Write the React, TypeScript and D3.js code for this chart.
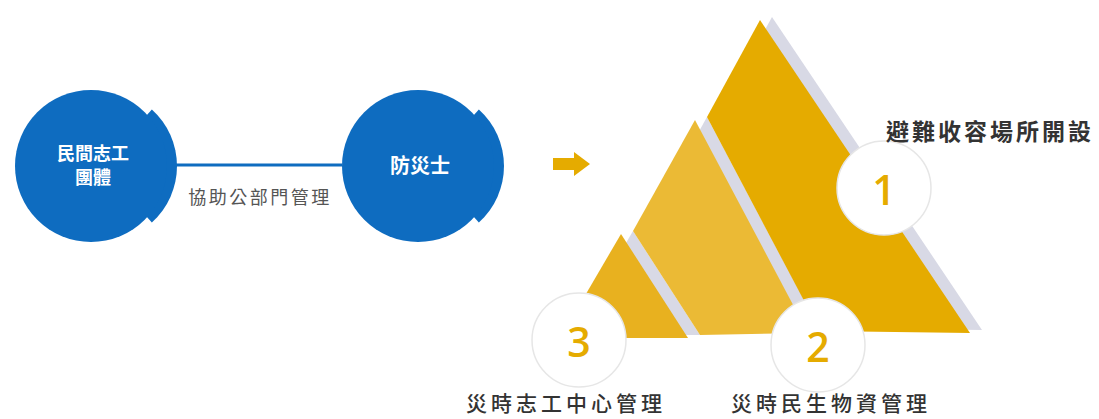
import React from "react";
import * as d3 from "d3";

// ---- content ----
const leftNodeLines: string[][] = [["民間志工", "團體"], ["防災士"]];
const linkLabel = "協助公部門管理";
const stepNumbers = ["1", "2", "3"];
const stepLabels = ["避難收容場所開設", "災時民生物資管理", "災時志工中心管理"];
const pieceColors = ["#E5AB00", "#EBBA35", "#E8B11F"];

// ---- layout ----
const W = 1099;
const H = 419;
const BLUE = "#0E6CC0";
const GOLD = "#E5AB00";
const SIDE = "#D8D9E5";
const CJK = "'Noto Sans CJK TC', 'Noto Sans CJK SC', sans-serif";

// node circles
const nodeX = d3.scalePoint<number>().domain([0, 1]).range([91, 418]);
const nodeY = 166;
const nodeR = 76;

// triangle pieces
const pieces: [number, number][][] = [
  [[760, 20], [970, 333], [820, 331], [707, 117]],
  [[695, 120], [808, 333], [700, 335], [633, 231]],
  [[621, 234], [688, 338], [590, 338], [583, 299]],
];
const sideShift: [number, number] = [12, -3];

const badgeCenters: [number, number][] = [[884, 188], [818, 345], [579, 340]];
const badgeR = 47;
const labelAnchors: [number, number][] = [[886, 130], [831, 402], [566, 402]];

export default function App() {
  const line = d3.line<[number, number]>().curve(d3.curveLinearClosed);
  const flap = d3.arc<any>()
    .innerRadius(0)
    .outerRadius(nodeR)
    .startAngle((42 * Math.PI) / 180)
    .endAngle((138 * Math.PI) / 180);

  const order = [2, 1, 0];
  const arrowCx = 571;
  const arrowCy = 164;

  return (
    <svg
      width={W}
      height={H}
      style={{ position: "absolute", left: 0, top: 0, background: "#fff" }}
    >
      {/* link line */}
      <line
        x1={nodeX(0)! + nodeR}
        x2={nodeX(1)! - nodeR}
        y1={nodeY - 1}
        y2={nodeY - 1}
        stroke={BLUE}
        strokeWidth={3}
      />
      <text
        x={260}
        y={196}
        textAnchor="middle"
        dominantBaseline="central"
        fontFamily={CJK}
        fontSize={18}
        fill="#555"
        letterSpacing={2.5}
      >
        {linkLabel}
      </text>

      {/* nodes */}
      {leftNodeLines.map((lines, i) => {
        const cx = nodeX(i)!;
        return (
          <g key={i}>
            <path d={flap({}) as string} transform={`translate(${cx + 10},${nodeY})`} fill={BLUE} />
            <circle cx={cx} cy={nodeY} r={nodeR} fill={BLUE} />
            {lines.map((t, j) => (
              <text
                key={j}
                x={cx + 2}
                y={nodeY - 2 + (j - (lines.length - 1) / 2) * 24}
                textAnchor="middle"
                dominantBaseline="central"
                fontFamily={CJK}
                fontWeight={700}
                fontSize={lines.length > 1 ? 18 : 20}
                fill="#fff"
              >
                {t}
              </text>
            ))}
          </g>
        );
      })}

      {/* arrow */}
      <path
        d={line([
          [arrowCx - 18, arrowCy - 6],
          [arrowCx + 3, arrowCy - 6],
          [arrowCx + 3, arrowCy - 12],
          [arrowCx + 19, arrowCy],
          [arrowCx + 3, arrowCy + 12],
          [arrowCx + 3, arrowCy + 6],
          [arrowCx - 18, arrowCy + 6],
        ]) as string}
        fill={GOLD}
      />

      {/* pyramid pieces */}
      {order.map((i) => {
        const pts = pieces[i];
        const shifted = pts.map(([x, y]) => [x + sideShift[0], y + sideShift[1]] as [number, number]);
        return (
          <g key={i}>
            <path d={line(shifted) as string} fill={SIDE} />
            <path d={line(pts) as string} fill={pieceColors[i]} />
          </g>
        );
      })}

      {/* badges */}
      {badgeCenters.map(([cx, cy], i) => (
        <g key={i}>
          <circle cx={cx} cy={cy} r={badgeR} fill="#fff" stroke="#E6E6E6" strokeWidth={1.5} />
          <text
            x={cx}
            y={cy + 1}
            textAnchor="middle"
            dominantBaseline="central"
            fontFamily="'Open Sans', 'Noto Sans', sans-serif"
            fontWeight={600}
            fontSize={41}
            fill={GOLD}
          >
            {stepNumbers[i]}
          </text>
        </g>
      ))}

      {/* step labels */}
      {stepLabels.map((t, i) => (
        <text
          key={i}
          x={labelAnchors[i][0]}
          y={labelAnchors[i][1]}
          textAnchor={i === 0 ? "start" : "middle"}
          dominantBaseline="central"
          fontFamily={CJK}
          fontWeight={i === 0 ? 700 : 500}
          fontSize={i === 0 ? 23 : 21}
          letterSpacing={i === 0 ? 3 : 4}
          fill="#333"
        >
          {t}
        </text>
      ))}
    </svg>
  );
}
